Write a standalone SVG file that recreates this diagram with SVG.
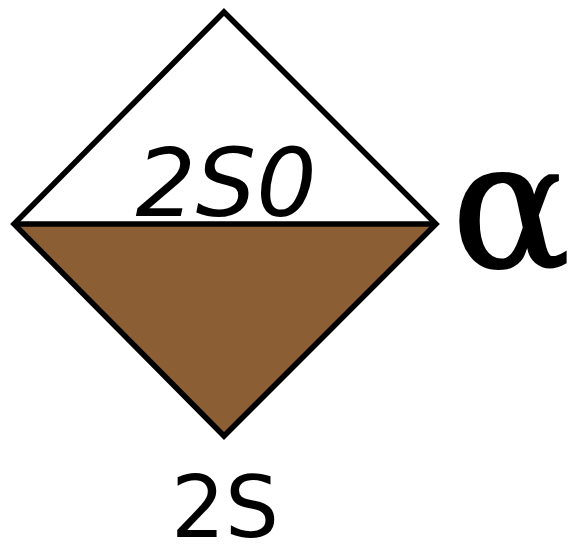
<svg xmlns="http://www.w3.org/2000/svg" width="574" height="556" viewBox="0 0 574 556">
<style>
.edge{stroke:#000;stroke-width:5.5;stroke-linejoin:miter;fill:none}
</style>
<rect width="574" height="556" fill="#fff"/>
<g id="node-diamond">
<polygon points="14,224 436,224 224,436" fill="#8B5E34"/>
<polygon points="224,12 436,224 224,436 14,224" class="edge"/>
<line x1="14" y1="224" x2="436" y2="224" class="edge"/>
<text x="226" y="216" font-family="DejaVu Sans, sans-serif" font-style="italic" font-size="95" text-anchor="middle">2S0</text>
</g>
<g id="label-alpha">
<text x="511" y="267" font-family="DejaVu Serif, serif" font-size="176" stroke="#000" stroke-width="2" text-anchor="middle">α</text>
</g>
<g id="label-2S">
<text x="225" y="537" font-family="DejaVu Sans, sans-serif" font-size="85" text-anchor="middle">2S</text>
</g>
<g id="connectors"/>
</svg>
